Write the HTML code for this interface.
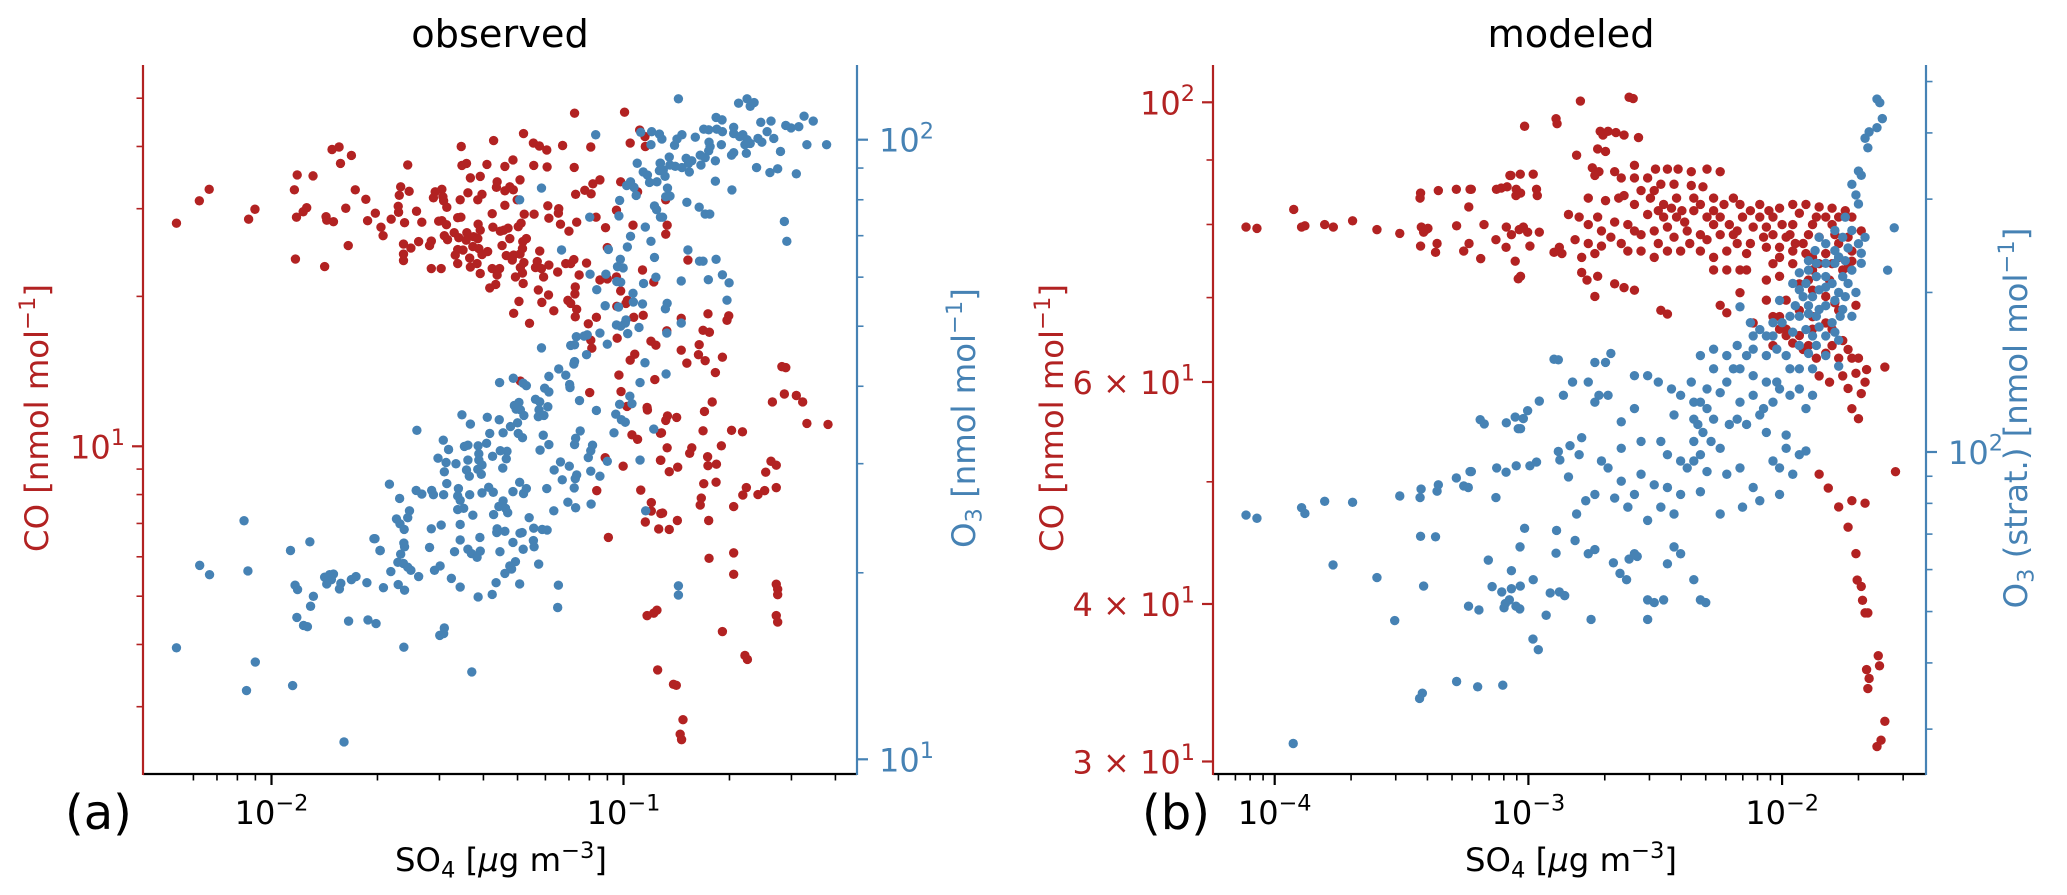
<!DOCTYPE html>
<html lang="en">
<head>
<meta charset="utf-8">
<title>Observed and modeled CO and O3 versus SO4</title>
<style>
html,body{margin:0;padding:0;background:#fff}
svg{display:block;font-family:"DejaVu Sans","Liberation Sans",sans-serif}
</style>
</head>
<body>
<svg id="chart" xmlns="http://www.w3.org/2000/svg" width="2067" height="895" viewBox="0 0 2067 895">
<rect width="2067" height="895" fill="#fff"/>
<g id="panelA"></g>
<g id="panelB"></g>
<text x="500" y="47" font-size="38.3" text-anchor="middle" fill="#000">observed</text>
<text x="1571" y="47" font-size="38.3" text-anchor="middle" fill="#000">modeled</text>
<text x="65" y="829" font-size="48" fill="#000">(a)</text>
<text x="1142" y="829" font-size="48" fill="#000">(b)</text>
<text x="501" y="871" font-size="32.3" text-anchor="middle" fill="#000">SO<tspan font-size="22.6" dy="6.5">4</tspan><tspan dy="-6.5"> [</tspan><tspan font-style="italic">μ</tspan>g m<tspan font-size="22.6" dy="-13">−3</tspan><tspan dy="13">]</tspan></text>
<text x="1571" y="871" font-size="32.3" text-anchor="middle" fill="#000">SO<tspan font-size="22.6" dy="6.5">4</tspan><tspan dy="-6.5"> [</tspan><tspan font-style="italic">μ</tspan>g m<tspan font-size="22.6" dy="-13">−3</tspan><tspan dy="13">]</tspan></text>
<text transform="translate(48,418) rotate(-90)" font-size="32.3" text-anchor="middle" fill="#b22222">CO [nmol mol<tspan font-size="22.6" dy="-13">−1</tspan><tspan dy="13">]</tspan></text>
<text transform="translate(975,418) rotate(-90)" font-size="32.3" text-anchor="middle" fill="#4682b4">O<tspan font-size="22.6" dy="6.5">3</tspan><tspan dy="-6.5"> [nmol mol</tspan><tspan font-size="22.6" dy="-13">−1</tspan><tspan dy="13">]</tspan></text>
<text transform="translate(1063,418) rotate(-90)" font-size="32.3" text-anchor="middle" fill="#b22222">CO [nmol mol<tspan font-size="22.6" dy="-13">−1</tspan><tspan dy="13">]</tspan></text>
<text transform="translate(2027,418) rotate(-90)" font-size="32.3" text-anchor="middle" fill="#4682b4">O<tspan font-size="22.6" dy="6.5">3</tspan><tspan dy="-6.5"> (strat.) [nmol mol</tspan><tspan font-size="22.6" dy="-13">−1</tspan><tspan dy="13">]</tspan></text>
</svg>
<script>
// All series values are log10 of the quantity.
const obsSo4ForCo = [
-2.27,-2.205,-2.177,-2.065,-2.047,-1.927,-1.882,-1.935,-1.929,-1.91,
-1.9,-1.845,-1.843,-1.824,-1.789,-1.762,-1.732,-1.705,-1.727,-1.689,
-1.683,-1.782,-1.932,-1.849,-1.828,-1.808,-1.773,-1.804,
-1.139,-.997,-.954,-.939,-.981,-.938,-1.093,-1.173,-1.218,-1.239,
-1.256,-1.284,-1.369,-1.461,-1.613,-1.459,-1.446,-1.388,-1.337,-1.314,
-1.255,-1.217,-1.14,-1.435,-1.407,-1.359,-1.294,-1.361,-1.337,-1.323,
-1.313,-1.067,-1.087,-1.11,-1.092,-1.136,-1.008,-1.633,-1.637,-1.609,
-1.535,-1.516,-1.54,-1.513,-1.511,-1.502,-1.464,-1.442,-1.402,-1.414,
-1.302,-1.337,-1.215,-1.184,-1.185,-.96,-1.02,-1.64,-1.639,-1.66,
-1.588,-1.622,-1.573,-1.525,-1.516,-1.503,-1.471,-1.462,-1.373,-1.282,
-1.254,-1.212,-1.078,-1.179,-1.133,-1.155,-1.051,-.973,-1.413,-1.407,
-1.371,-1.35,-1.34,-1.328,-1.291,-1.299,-1.509,-1.5,-1.481,-1.468,
-1.445,-1.447,-1.426,-1.414,-1.582,-1.625,-1.604,-1.546,-1.551,-1.625,
-1.625,-1.323,-1.276,-1.286,-1.345,-1.428,-1.411,-1.386,-1.402,-1.471,
-1.456,-1.478,-1.471,-1.437,-1.287,-1.238,-1.046,-1.333,-1.312,-1.294,
-1.316,-1.283,-1.435,-1.416,-1.546,-1.518,-1.373,-1.352,-1.359,-1.293,
-1.287,-1.307,-1.245,-1.25,-1.212,-1.233,-1.227,-1.164,-1.141,-1.15,
-1.105,-1.187,-1.126,-1.407,-1.067,-1.046,-1.02,-.946,-.914,-1.38,
-1.363,-1.285,-1.242,-1.213,-1.137,-1.138,-1.008,-1.297,-1.232,-1.158,
-1.15,-1.133,-.989,-.993,-1.019,-1.312,-1.198,-1.137,-1.077,-.971,-.944,
-1.267,-1.1,-1.093,-1.09,-1.018,-.922,-.908,-.968,-.981,-1.013,
-.911,-1.293,-1.096,-1.007,-.99,-.933,-.932,-.976,-.96,-1.052,
-1.001,-.895,-.895,-1.076,-.951,-.921,-.921,-.938,-.9,-1.043,-.894,-.905,
-.88,-.876,-.88,-.817,-.877,-.836,-.76,-.701,-.706,-.774,
-.756,-.836,-.785,-.787,-.768,-.82,-.719,-.739,-.875,-.88,
-.849,-.748,-.77,-.892,-.774,-.693,-.662,-.876,-.806,-.812,
-.722,-.761,-.894,-.76,-.736,-.846,-.87,-.772,-.737,-.779,
-.782,-.651,-.661,-.687,-.889,-.847,-.758,-.87,-.757,-.687,-.687,
-.933,-.914,-.903,-.858,-.85,-.831,-.835,-.839,-.719,-.655,
-.648,-.566,-.562,-.562,-.566,-.562,-.419,-.479,-.491,-.539,
-.55,-.543,-.577,-.509,-.581,-.566,-.596,-.566,-.618,-.599
];
const obsCo = [
1.448,1.493,1.516,1.456,1.476,1.545,1.543,1.515,1.46,1.471,
1.479,1.461,1.454,1.451,1.478,1.515,1.496,1.468,1.453,1.44,
1.423,1.403,1.376,1.361,1.596,1.601,1.584,1.568,
1.669,1.671,1.635,1.622,1.609,1.602,1.601,1.604,1.595,1.603,
1.609,1.628,1.614,1.602,1.565,1.564,1.568,1.566,1.562,1.575,
1.564,1.561,1.56,1.539,1.542,1.531,1.535,1.52,1.513,1.521,
1.515,1.535,1.527,1.514,1.507,1.506,1.531,1.521,1.504,1.512,
1.511,1.516,1.499,1.501,1.493,1.48,1.495,1.509,1.506,1.495,
1.495,1.484,1.483,1.477,1.468,1.511,1.474,1.482,1.47,1.456,
1.472,1.449,1.45,1.452,1.453,1.445,1.459,1.46,1.467,1.466,
1.466,1.458,1.46,1.446,1.45,1.432,1.439,1.444,1.446,1.434,
1.44,1.432,1.434,1.438,1.448,1.441,1.423,1.415,1.429,1.419,
1.429,1.414,1.421,1.417,1.411,1.406,1.398,1.412,1.403,1.386,
1.373,1.417,1.417,1.411,1.403,1.401,1.397,1.391,1.385,1.395,
1.394,1.384,1.367,1.378,1.397,1.392,1.399,1.383,1.384,1.386,
1.374,1.369,1.36,1.367,1.357,1.357,1.357,1.357,1.344,1.359,
1.348,1.34,1.371,1.359,1.364,1.357,1.34,1.367,1.375,1.367,
1.368,1.35,1.344,1.347,1.334,1.336,1.34,1.354,1.33,1.318,
1.325,1.327,1.314,1.304,1.32,1.306,1.312,1.291,1.289,1.293,
1.287,1.275,1.293,1.287,1.281,1.267,1.272,1.26,1.259,1.259,1.263,
1.247,1.246,1.213,1.197,1.217,1.211,1.203,1.185,1.173,1.143,
1.134,1.131,1.108,1.11,1.08,1.078,1.073,1.023,1.014,.977,
.96,1.026,.972,.911,.912,.887,.87,.848,.834,.817,.865,.671,
1.495,1.444,1.426,1.374,1.232,1.257,1.266,1.262,1.253,1.233,
1.229,1.193,1.204,1.184,1.172,1.167,1.179,1.148,1.061,1.052,
1.058,1.089,1.07,1.027,1.031,1.032,1.029,.997,.997,.986,
1.001,.979,.972,.961,.964,.958,.949,.925,.928,.896,
.882,.917,.902,.879,.866,.851,.851,.833,.775,.786,.743,
.66,.665,.551,.522,.52,.451,.411,.422,.628,.58,
.572,.723,.713,.702,.66,.647,1.044,1.046,1.089,1.158,
1.16,1.105,1.089,1.102,.97,.962,.948,.917,.903,.911
];
const obsSo4ForO3 = [
-2.204,-2.176,-2.067,-1.933,-1.926,-1.881,-1.889,-1.928,-1.909,-1.898,
-1.781,-1.726,-2.27,-2.046,-1.729,-1.849,-1.835,-1.824,-1.83,-1.843,
-1.803,-1.807,-1.773,-1.76,-1.703,-1.624,-1.522,-1.511,-1.509,-1.431,
-2.078,-1.891,-1.946,-1.706,-1.691,-2.071,-1.94,-1.794,
-1.02,-1.008,-.995,-.988,-.956,-1.067,-1.046,-1.134,-1.103,-1.112,
-1.15,-1.139,-1.233,-1.105,-1.139,-1.141,-.939,-1.184,-1.164,-1.212,
-1.313,-1.352,-1.285,-1.276,-.953,-1.153,-1.152,-1.224,-1.212,-1.25,
-1.238,-1.297,-1.31,-1.305,-1.293,-1.283,-1.215,-1.24,-1.242,-1.226,
-1.125,-1.077,-.982,-.976,-1.011,-1.022,-1.006,-.995,-.914,-1.027,
-1.459,-1.387,-1.353,-1.435,-1.587,-1.301,-1.321,-1.342,-1.38,-1.299,
-1.287,-1.228,-1.123,-1.136,-1.139,-1.212,-1.237,-1.088,-1.093,-1.1,
-1.512,-1.497,-1.452,-1.442,-1.413,-1.389,-1.35,-1.331,-1.333,-1.372,
-1.411,-1.442,-1.527,-1.504,-1.476,-1.509,-1.446,-1.411,-1.402,-1.414,
-1.438,-1.404,-1.343,-1.179,-1.154,-1.197,-1.046,-.953,-1.093,-1.067,
-1.133,-1.137,-1.174,-1.14,-1.218,-1.295,-1.276,-1.284,-1.314,-1.383,
-1.37,-1.402,-1.437,-1.502,-1.469,-1.471,-1.665,-1.589,-1.573,-1.545,
-1.54,-1.511,-1.636,-1.464,-1.454,-1.471,-1.342,-1.354,-1.335,-1.329,
-1.369,-1.428,-1.158,-1.136,-1.092,-1.198,-.937,-1.608,-1.613,-1.645,
-1.635,-1.623,-1.518,-1.546,-1.464,-1.268,-1.359,-1.36,-1.337,-1.288,
-1.294,-1.255,-1.231,-1.217,-1.408,-1.464,-1.314,-1.256,-1.254,-1.285,
-1.551,-1.48,-1.442,-1.432,-1.407,-1.416,-1.351,-1.624,-1.622,-1.633,
-1.709,-1.692,-1.641,-1.625,-1.613,-1.604,-1.661,-1.582,-1.537,-1.521,
-1.489,-1.323,-1.307,-1.318,-1.337,-1.241,-1.362,-1.295,-1.185,-1.64,
-1.622,-1.682,-1.464,-1.413,-1.373,-1.187,
-1.079,-.951,-.92,-.898,-.922,-.961,-.895,-.898,-.944,-.932,
-.926,-.905,-.98,-.991,-.97,-.964,-1.233,-1.295,-1.011,-.912,
-.906,-.895,-1.096,-1.013,-.938,-.98,-.922,-.989,-1.176,-1.043,
-1.009,-1.017,-1.001,-.912,-1.095,-1.05,-.908,-1.019,-1.008,-.943,
-1.076,-.973,-.972,-.946,-1.052,-1.014,-.993,
-.844,-.673,-.649,-.64,-.737,-.72,-.891,-.772,-.758,-.735,
-.796,-.834,-.848,-.855,-.687,-.687,-.67,-.661,-.649,-.64,
-.754,-.722,-.782,-.758,-.768,-.739,-.78,-.687,-.651,-.87,
-.896,-.822,-.806,-.815,-.868,-.853,-.834,-.887,-.882,-.813,
-.739,-.692,-.875,-.88,-.868,-.82,-.889,-.785,-.768,-.755,
-.817,-.784,-.774,-.737,-.836,-.759,-.719,-.7,-.706,-.876,
-.881,-.836,-.877,-.879,-.844,-.844,
-.629,-.61,-.607,-.581,-.573,-.554,-.524,-.502,-.479,-.461,
-.423,-.509,-.543,-.536,-.562,-.584,-.618,-.622,
-.592,-.539,-.487,-.655,-.693,-.719,-.757
];
const obsO3 = [
1.313,1.298,1.304,1.281,1.274,1.263,1.247,1.229,1.216,1.214,
1.223,1.225,1.18,1.157,1.285,1.294,1.298,1.299,1.29,1.283,
1.284,1.275,1.29,1.295,1.219,1.181,1.2,1.203,1.212,1.141,
1.385,1.351,1.337,1.356,1.337,1.111,1.119,1.028,
1.701,1.699,1.704,1.687,1.697,1.688,1.67,1.682,1.685,1.683,
1.668,1.669,1.664,1.653,1.642,1.638,1.64,1.63,1.62,1.618,
1.615,1.608,1.607,1.603,1.608,1.605,1.6,1.599,1.593,1.581,
1.577,1.576,1.571,1.565,1.564,1.555,1.569,1.564,1.553,1.555,
1.579,1.563,1.586,1.574,1.573,1.557,1.548,1.544,1.533,1.527,
1.556,1.552,1.548,1.541,1.531,1.543,1.537,1.527,1.526,1.526,
1.519,1.523,1.53,1.518,1.508,1.508,1.499,1.507,1.498,1.487,
1.515,1.5,1.505,1.507,1.506,1.51,1.498,1.497,1.485,1.489,
1.493,1.483,1.486,1.479,1.477,1.464,1.467,1.483,1.475,1.468,
1.457,1.46,1.47,1.48,1.473,1.467,1.481,1.483,1.465,1.457,
1.459,1.453,1.451,1.438,1.437,1.447,1.437,1.429,1.432,1.439,
1.431,1.43,1.427,1.445,1.437,1.425,1.444,1.434,1.428,1.434,
1.427,1.427,1.421,1.418,1.405,1.403,1.417,1.408,1.405,1.398,
1.395,1.394,1.415,1.406,1.412,1.401,1.401,1.401,1.39,1.388,
1.38,1.371,1.378,1.372,1.379,1.39,1.372,1.366,1.368,1.366,
1.365,1.373,1.371,1.37,1.358,1.354,1.35,1.353,1.343,1.339,
1.342,1.335,1.339,1.332,1.336,1.326,1.335,1.349,1.343,1.331,
1.356,1.337,1.318,1.316,1.31,1.305,1.303,1.295,1.305,1.312,
1.292,1.312,1.319,1.307,1.3,1.315,1.285,1.283,1.281,1.282,
1.273,1.277,1.278,1.262,1.266,1.245,
2.008,2.012,2.013,2.009,1.992,1.962,1.962,1.95,1.948,1.943,
1.931,1.932,1.932,1.926,1.923,1.91,1.922,1.903,1.902,1.893,
1.887,1.875,1.875,1.877,1.859,1.844,1.836,1.827,1.822,1.823,
1.807,1.795,1.793,1.81,1.783,1.783,1.778,1.771,1.77,1.768,
1.758,1.752,1.738,1.735,1.732,1.73,1.709,
2.066,2.059,2.066,2.054,2.036,2.032,2.001,2.017,2.016,2.017,
2.004,2.008,2.001,1.991,2.02,2.01,2.005,2.008,2,1.994,
1.989,1.992,1.975,1.982,1.971,1.966,1.959,1.979,1.978,1.972,
1.962,1.97,1.966,1.962,1.959,1.957,1.955,1.951,1.941,1.948,
1.933,1.919,1.922,1.908,1.909,1.899,1.875,1.891,1.88,1.88,
1.822,1.804,1.804,1.807,1.772,1.774,1.782,1.769,1.741,1.736,
1.727,1.704,1.688,1.622,1.28,1.265,
2.06,2.028,1.996,2.03,2.002,1.981,2.019,2.021,1.992,2.03,
1.992,1.945,1.868,1.836,1.953,1.947,2.002,1.955,
2.013,2.023,2.038,1.992,1.975,2.013,1.996
];
const modSo4ForCo = [
-4.113,-4.07,-3.925,-3.894,-3.881,-3.803,-3.769,-3.693,-3.597,-3.507,
-3.425,-3.427,-3.355,-3.284,-3.23,-3.235,-3.422,-3.396,-3.413,-3.283,
-3.425,-3.36,-3.366,-3.255,-3.234,-3.404,
-3.015,-2.891,-2.887,-3.073,-3.069,-3.032,-2.981,-3.225,-3.126,-3.107,
-3.084,-3.048,-3.049,-3.031,-2.968,-2.965,-3.175,-3.087,-3.067,-3.036,
-3.02,-3.003,-2.957,-3.128,-3.188,-3.088,-2.994,-3.052,-3.031,-3.04,
-2.899,-2.878,
-2.795,-2.603,-2.587,-2.717,-2.706,-2.686,-2.655,-2.623,-2.566,-2.81,
-2.727,-2.748,-2.722,-2.696,-2.582,-2.582,-2.53,-2.499,-2.452,-2.41,
-2.358,-2.296,-2.244,-2.478,-2.426,-2.358,-2.312,-2.738,-2.764,-2.623,
-2.696,-2.644,-2.556,-2.504,-2.467,-2.416,-2.348,-2.27,-2.192,-2.842,
-2.8,-2.727,-2.66,-2.582,-2.53,-2.467,-2.416,-2.384,-2.348,-2.296,
-2.244,-2.166,-2.088,-2.01,-1.958,-1.906,-1.854,-1.803,-1.751,-2.036,
-1.958,-1.88,-1.803,-1.725,-2.816,-2.764,-2.712,-2.634,-2.582,-2.504,
-2.452,-2.374,-2.322,-2.244,-2.177,-2.114,-2.036,-1.984,-1.917,-1.854,
-1.792,-1.74,-2.868,-2.79,-2.738,-2.608,-2.556,-2.504,-2.452,-2.322,
-2.218,-2.14,-2.062,-2.01,-1.958,-1.88,-1.828,-1.777,-1.725,-2.79,
-2.769,-2.727,-2.66,-2.623,-2.582,-2.27,-2.14,-2.036,-1.958,-1.88,
-1.803,-1.74,-2.738,-2.478,-2.452,-2.244,-2.218,-2.062,-2.01,-1.932,
-1.88,-1.828,-1.777,-1.709,-2.166,-2.114,-2.01,-1.984,-1.932,-1.88,
-1.803,-1.74,-1.917,-1.828,-1.777,-1.699,-1.667,-1.595,-1.813,-1.74,
-1.673,-1.725,-1.699,-1.854,-1.818,-1.777,-1.74,-1.709,-1.704,-1.688,
-1.683,-1.673,-1.662,-1.667,-1.657,-1.662,-1.621,-1.616,-1.595,-1.61,
-1.626,-1.553,-1.725,-1.673,
-2.519,-2.488,-2.436,-2.395,-2.322,-2.27,-2.229,-2.208,-2.156,-2.125,
-2.088,-2.062,-2,-2.052,-1.932,-1.896,-1.865,-1.828,-1.777,-1.969,
-1.948,-2.01,-2.073,-2.125,-2.177,-2.27,-2.296,-2.364,-2.426,-2.488,
-1.906,-1.854,-1.777,-1.761,-1.813,-1.896,-1.725,-1.688,-2.01,-2.062,
-2.166,-2.218,-1.932,-1.984,-2.036,-1.88,-1.828,-1.958,-1.896,-1.865,
-1.803,-1.761,-1.725,-1.761,-1.709,-1.854,-1.688,-1.984,-2.036,-1.792,
-2.712,-2.675,-2.764,-2.608,-2.556,-2.4,-2.27,-2.192,-2.66,-2.634
];
const modCo = [
1.901,1.9,1.915,1.901,1.902,1.903,1.901,1.906,1.899,1.896,
1.928,1.924,1.93,1.931,1.931,1.917,1.901,1.9,1.897,1.902,
1.886,1.888,1.881,1.882,1.888,1.899,
1.981,1.987,1.983,1.942,1.942,1.943,1.943,1.931,1.931,1.932,
1.933,1.931,1.926,1.928,1.931,1.926,1.903,1.901,1.895,1.899,
1.901,1.897,1.897,1.891,1.876,1.885,1.886,1.874,1.862,1.86,
1.881,1.885,
2.001,2.004,2.003,1.977,1.974,1.977,1.976,1.974,1.972,1.958,
1.963,1.948,1.945,1.961,1.95,1.94,1.94,1.947,1.947,1.947,
1.945,1.947,1.945,1.935,1.935,1.934,1.933,1.942,1.924,1.926,
1.922,1.924,1.93,1.93,1.919,1.924,1.924,1.924,1.924,1.911,
1.909,1.909,1.905,1.919,1.911,1.909,1.909,1.905,1.914,1.909,
1.909,1.919,1.919,1.916,1.919,1.919,1.917,1.916,1.914,1.909,
1.903,1.903,1.903,1.909,1.891,1.888,1.886,1.888,1.898,1.898,
1.901,1.898,1.895,1.895,1.898,1.901,1.895,1.893,1.888,1.893,
1.895,1.893,1.88,1.877,1.88,1.882,1.882,1.877,1.882,1.882,
1.882,1.88,1.885,1.885,1.882,1.877,1.88,1.877,1.882,1.865,
1.859,1.862,1.856,1.853,1.851,1.867,1.867,1.872,1.872,1.867,
1.872,1.869,1.846,1.835,1.832,1.839,1.833,1.843,1.83,1.856,
1.851,1.846,1.835,1.839,1.849,1.825,1.82,1.815,1.815,1.82,
1.82,1.804,1.804,1.801,1.797,1.797,1.788,1.79,1.778,1.773,
1.778,1.757,1.749,1.705,1.694,1.679,1.663,1.642,1.621,1.616,
1.605,1.595,1.595,1.55,1.543,1.535,1.561,1.553,1.509,1.494,
1.489,1.707,1.684,1.682,
1.924,1.914,1.916,1.914,1.919,1.914,1.919,1.903,1.909,1.914,
1.909,1.901,1.903,1.914,1.912,1.895,1.909,1.909,1.909,1.895,
1.888,1.877,1.893,1.888,1.888,1.903,1.891,1.888,1.893,1.888,
1.88,1.872,1.888,1.867,1.859,1.859,1.874,1.898,1.862,1.859,
1.867,1.867,1.835,1.843,1.83,1.83,1.825,1.809,1.807,1.797,
1.807,1.811,1.797,1.783,1.785,1.783,1.769,1.82,1.807,1.841,
1.898,1.893,1.903,1.903,1.895,1.882,1.877,1.895,1.945,1.94
];
const modSo4ForO3 = [
-4.113,-4.07,-3.894,-3.881,-3.803,-3.693,-3.507,-3.423,-3.427,-3.355,
-3.36,-3.284,-3.255,-3.237,-3.23,-3.425,-3.366,-3.77,-3.597,-3.413,
-2.899,-2.882,-2.957,-3.003,-3.19,-3.174,-3.087,-3.052,-3.02,-3.04,
-3.031,-2.882,-2.876,-2.968,-2.994,-3.048,-3.125,-3.088,-3.225,-3.128,
-3.015,-2.889,-3.033,-2.891,-3.067,-2.981,-3.032,-3.067,-3.105,
-3.927,-3.429,-3.418,-3.283,-3.2,-3.101,-2.982,-2.961,-3.527,
-3.091,-3.075,-3.096,-3.049,-3.034,-2.93,-2.914,-2.878,-2.857,-2.753,
-2.665,-2.639,-2.613,-2.603,-2.571,-2.467,-2.53,-2.504,-3.143,-3.158,
-3.195,-3.236,
-1.626,-1.615,-1.605,-1.626,-1.657,-1.673,-1.662,-1.699,-1.688,-1.709,
-1.725,-1.699,-1.751,-1.792,-1.828,-1.854,-1.87,-1.896,-1.932,-1.958,
-1.74,-1.699,-1.673,-1.558,-1.584,-1.777,-1.828,-1.865,-1.906,-1.854,
-1.803,-1.761,-1.725,-1.688,-1.88,-1.917,-1.828,-1.792,-1.751,-1.709,
-2.01,-1.969,-1.932,-1.896,-1.865,-1.803,-1.771,-1.725,-2.036,-2.088,
-2.125,-2.036,-2.166,-1.984,-1.932,-1.88,-1.828,-1.777,-2.062,-2.114,
-1.828,-1.777,-2.218,-2.27,-2.296,-2.358,-2.322,-2.218,-2.166,-2.114,
-2.062,-2.036,-2.01,-1.969,-1.932,-1.88,-2.348,-2.296,-2.27,-2.332,
-2.348,-2.208,-2.14,-2.088,-2.062,-1.984,-1.906,-1.88,-2.322,-2.374,
-2.738,-2.686,-2.634,-2.582,-2.53,-2.436,-2.426,-2.712,-2.686,-2.634,
-2.452,-2.4,-2.556,-2.504,-2.452,-2.4,-2.738,-2.218,-2.166,-2.114,
-2.036,-1.984,-1.906,-1.958,-2.01,-2.088,-2.322,-2.244,-2.156,-2.816,
-2.764,-2.348,-2.322,-2.301,-2.426,-2.4,-2.452,-2.53,-2.608,-2.722,
-2.675,-2.696,-2.738,-2.764,-2.826,-2.862,-2.836,-2.79,-2.842,-2.81,
-2.66,-2.582,-2.738,-2.774,-2.8,-2.582,-2.53,-2.478,
-1.932,-1.896,-1.828,-1.792,-1.751,-1.865,-1.725,-1.761,-1.792,-1.828,
-1.777,-1.74,-1.896,-1.948,-1.854,-1.761,-1.688,-2,-1.958,-1.906,
-1.854,-1.792,-2.062,-2.114,-2.177,-2.14,-2.021,-1.896,-1.865,-2.27,
-2.192,-2.244,-2.322,-2.348,-2.312,-2.28,-2.166,-2.114,-2.073,-2.177,
-2.021,-1.969,-1.932,-2.348,-2.296,-2.244,-2.582,-2.488,-2.4,-2.478,
-2.556,-2.634,-2.426,-2.01,-1.932
];
const modO3 = [
1.881,1.875,1.895,1.884,1.907,1.905,1.917,1.93,1.914,1.938,
1.926,1.951,1.936,1.933,1.963,1.841,1.84,1.787,1.763,1.747,
2.175,2.174,2.096,2.078,2.061,2.053,2.055,2.066,2.063,2.044,
2.044,2.001,1.985,1.981,1.974,1.974,1.97,1.962,1.963,1.914,
1.856,1.852,1.821,1.809,1.776,1.759,1.747,1.742,1.736,
1.45,1.535,1.545,1.567,1.557,1.56,1.647,1.627,1.682,
1.714,1.721,1.706,1.709,1.704,1.692,1.734,1.736,1.729,1.684,
1.791,1.771,1.759,1.798,1.803,1.721,1.721,1.716,1.746,1.796,
1.702,1.709,
2.666,2.659,2.629,2.612,2.604,2.592,2.574,2.53,2.522,2.485,
2.505,2.468,2.443,2.418,2.393,2.405,2.38,2.361,2.338,2.318,
2.385,2.393,2.405,2.423,2.343,2.368,2.356,2.331,2.318,2.306,
2.318,2.331,2.343,2.356,2.293,2.293,2.276,2.286,2.293,2.301,
2.286,2.256,2.256,2.261,2.256,2.244,2.256,2.256,2.244,2.231,
2.244,2.219,2.274,2.182,2.201,2.219,2.219,2.211,2.182,2.194,
2.182,2.162,2.182,2.157,2.119,2.132,2.182,2.132,2.157,2.144,
2.132,2.094,2.119,2.107,2.119,2.157,2.094,2.082,2.062,2.052,
2.02,2.052,2.052,2.07,2.037,2.032,2.082,2.107,1.995,1.97,
2.094,2.107,2.057,2.144,2.144,2.119,2.07,1.983,1.97,2.007,
1.995,1.983,1.958,1.938,1.933,1.92,1.92,1.958,1.97,1.933,
1.983,2.007,2.002,1.958,1.92,1.908,1.925,1.883,1.896,1.833,
1.808,1.759,1.721,1.716,1.821,1.808,1.789,1.684,1.896,2.107,
2.186,2.169,2.169,2.132,2.132,2.107,2.012,2.027,1.953,1.883,
1.913,1.808,1.816,1.908,1.995,1.92,1.871,1.896,
2.306,2.343,2.331,2.356,2.361,2.356,2.418,2.405,2.38,2.311,
2.301,2.318,2.276,2.276,2.269,2.269,2.375,2.244,2.226,2.231,
2.236,2.226,2.219,2.219,2.201,2.182,2.194,2.186,2.201,2.194,
2.157,2.112,2.094,2.062,2.037,2.02,2.094,2.107,2.082,2.062,
2.132,2.157,2.157,1.983,1.963,2.007,2.082,2.132,2.107,2.02,
2.02,1.945,1.883,1.97,1.995
];

const obsXMajorTicks = [0.01, 0.1];
const obsXMajorLabels = ['10^−2', '10^−1'];
const obsXMinorTicks = [0.006,0.007,0.008,0.009,0.02,0.03,0.04,0.05,0.06,0.07,0.08,0.09,0.2,0.3,0.4];
const obsCoMajorTicks = [10];
const obsCoMajorLabels = ['10^1'];
const obsCoMinorTicks = [3,4,5,6,7,8,9,20,30,40,50];
const obsO3MajorTicks = [10, 100];
const obsO3MajorLabels = ['10^1', '10^2'];
const obsO3MinorTicks = [20,30,40,50,60,70,80,90];
const modXMajorTicks = [0.0001, 0.001, 0.01];
const modXMajorLabels = ['10^−4', '10^−3', '10^−2'];
const modXMinorTicks = [0.00006,0.00007,0.00008,0.00009,0.0002,0.0003,0.0004,0.0005,0.0006,0.0007,0.0008,0.0009,0.002,0.003,0.004,0.005,0.006,0.007,0.008,0.009,0.02,0.03];
const modCoMajorTicks = [30, 40, 60, 100];
const modCoMajorLabels = ['3 × 10^1', '4 × 10^1', '6 × 10^1', '10^2'];
const modCoMinorTicks = [50,70,80,90];
const modO3MajorTicks = [100];
const modO3MajorLabels = ['10^2'];
const modO3MinorTicks = [30,40,50,60,70,80,90,200,300,400,500];

const RED = '#b22222', BLUE = '#4682b4', BLACK = '#000';
const TOP = 65, BOTTOM = 774;
const A_LEFT = 143, A_RIGHT = 857, B_LEFT = 1213, B_RIGHT = 1926;

// axis functions: take log10 of the value
const xObs = v => 271.5 + (v + 2) * 352;
const yObsCo = v => 446.3 - (v - 1) * 498;
const yObsO3 = v => 759.3 - (v - 1) * 619.6;
const xMod = v => 1274.7 + (v + 4) * 253.7;
const yModCo = v => 102.3 + (2 - v) * 1260.7;
const yModO3 = v => 452 - (v - 2) * 530;

const SVGNS = 'http://www.w3.org/2000/svg';
function make(parent, tag, attrs) {
  const el = document.createElementNS(SVGNS, tag);
  for (const k in attrs) el.setAttribute(k, attrs[k]);
  parent.appendChild(el);
  return el;
}
function segment(parent, x1, y1, x2, y2, color, w) {
  return make(parent, 'line', {x1, y1, x2, y2, stroke: color, 'stroke-width': w, 'stroke-linecap': 'butt'});
}
function dot(parent, cx, cy, color) {
  return make(parent, 'circle', {cx, cy, r: 4.7, fill: color});
}
function tickText(parent, x, y, anchor, label, color) {
  const parts = label.split('^');
  const t = make(parent, 'text', {x, y, 'text-anchor': anchor, 'font-size': 32, fill: color});
  t.appendChild(document.createTextNode(parts[0]));
  const sup = make(t, 'tspan', {'font-size': 22.4, dy: -13.3});
  sup.textContent = parts[1];
  return t;
}
function drawAxes(g, xLeft, xRight, xFn, xMajor, xMajorLab, xMinor, yLFn, lMajor, lMajorLab, lMinor, yRFn, rMajor, rMajorLab, rMinor) {
  let s = segment(g, xLeft, BOTTOM, xRight, BOTTOM, BLACK, 2.2);
  
  
  s = segment(g, xLeft, TOP, xLeft, BOTTOM + 1, RED, 2.2);
  
  
  s = segment(g, xRight, TOP, xRight, BOTTOM + 1, BLUE, 2.2);
  
  
  xMajor.forEach((v, i) => {
    const px = xFn(Math.log10(v));
    const tk = segment(g, px, BOTTOM, px, BOTTOM + 11, BLACK, 2.2);
    
    
    const lb = tickText(g, px, 824, 'middle', xMajorLab[i], BLACK);
    
    
  });
  xMinor.forEach(v => {
    const px = xFn(Math.log10(v));
    const tk = segment(g, px, BOTTOM, px, BOTTOM + 6.5, BLACK, 1.6);
    
    
  });
  lMajor.forEach((v, i) => {
    const py = yLFn(Math.log10(v));
    const tk = segment(g, xLeft, py, xLeft - 11, py, RED, 2.2);
    
    
    const lb = tickText(g, xLeft - 18, py + 12, 'end', lMajorLab[i], RED);
    
    
  });
  lMinor.forEach(v => {
    const py = yLFn(Math.log10(v));
    const tk = segment(g, xLeft, py, xLeft - 6.5, py, RED, 1.6);
    
    
  });
  rMajor.forEach((v, i) => {
    const py = yRFn(Math.log10(v));
    const tk = segment(g, xRight, py, xRight + 11, py, BLUE, 2.2);
    
    
    const lb = tickText(g, xRight + 22, py + 12, 'start', rMajorLab[i], BLUE);
    
    
  });
  rMinor.forEach(v => {
    const py = yRFn(Math.log10(v));
    const tk = segment(g, xRight, py, xRight + 6.5, py, BLUE, 1.6);
    
    
  });
}

const gA = document.getElementById('panelA');
const gB = document.getElementById('panelB');

obsCo.forEach((v, i) => {
  const c = dot(gA, xObs(obsSo4ForCo[i]), yObsCo(v), RED);
  
  
});
obsO3.forEach((v, i) => {
  const c = dot(gA, xObs(obsSo4ForO3[i]), yObsO3(v), BLUE);
  
  
});
modCo.forEach((v, i) => {
  const c = dot(gB, xMod(modSo4ForCo[i]), yModCo(v), RED);
  
  
});
modO3.forEach((v, i) => {
  const c = dot(gB, xMod(modSo4ForO3[i]), yModO3(v), BLUE);
  
  
});

drawAxes(gA, A_LEFT, A_RIGHT, xObs, obsXMajorTicks, obsXMajorLabels, obsXMinorTicks,
  yObsCo, obsCoMajorTicks, obsCoMajorLabels, obsCoMinorTicks,
  yObsO3, obsO3MajorTicks, obsO3MajorLabels, obsO3MinorTicks);
drawAxes(gB, B_LEFT, B_RIGHT, xMod, modXMajorTicks, modXMajorLabels, modXMinorTicks,
  yModCo, modCoMajorTicks, modCoMajorLabels, modCoMinorTicks,
  yModO3, modO3MajorTicks, modO3MajorLabels, modO3MinorTicks);
</script>
</body>
</html>
